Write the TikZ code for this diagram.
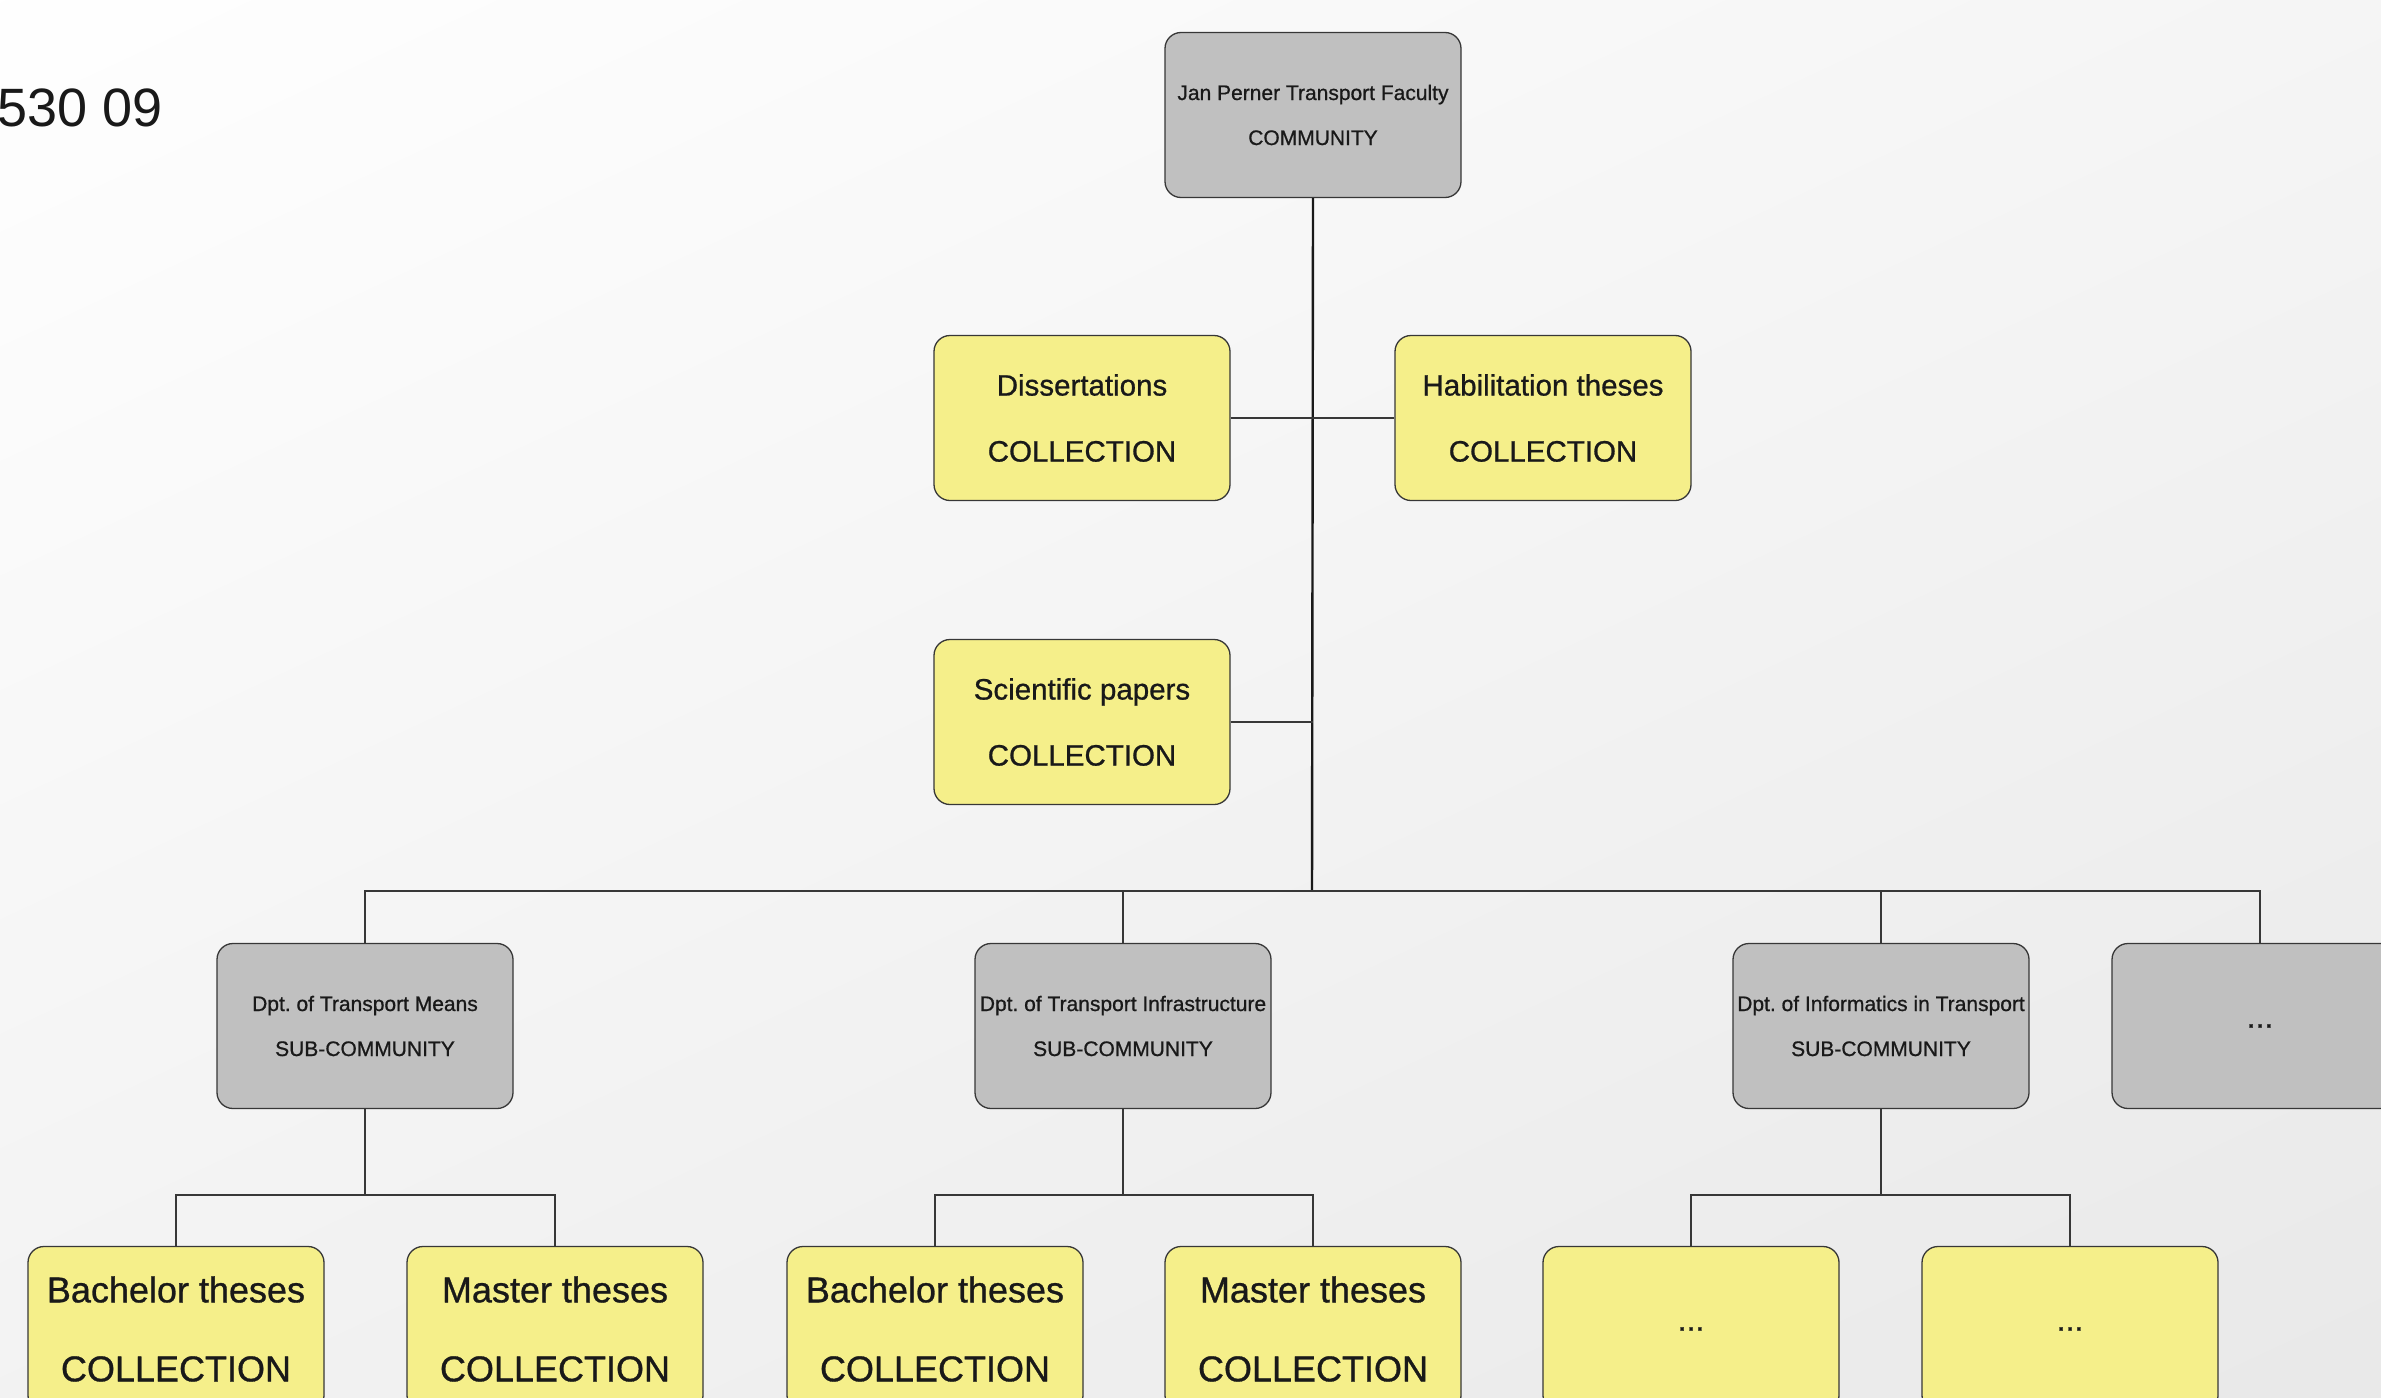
\documentclass[tikz,border=0pt]{standalone}
\usepackage{fontspec}
\setmainfont{Liberation Sans}
\newfontfamily\heavy{Liberation Sans}[FakeBold=0.8]
\usepackage{tikz}
\definecolor{boxgray}{RGB}{192,192,192}
\definecolor{boxyellow}{RGB}{245,239,138}
\definecolor{edgegray}{RGB}{55,55,55}
\frenchspacing

\begin{document}
\begin{tikzpicture}
  [x=1pt,y=-1pt,
   every node/.style={rectangle,rounded corners=16pt,draw=edgegray,line width=1.3pt,
     minimum width=296pt,minimum height=165pt,align=center,inner sep=0pt,text=black!90},
   comm/.style={fill=boxgray,font=\heavy\fontsize{21}{45}\selectfont},
   coll/.style={fill=boxyellow,font=\heavy\fontsize{29.5}{66}\selectfont},
   thesis/.style={fill=boxyellow,font=\heavy\fontsize{36}{79}\selectfont},
   dots/.style={font=\heavy\fontsize{32}{40}\selectfont,text depth=-6pt},
   link/.style={draw=edgegray,line width=1.2pt},
   trunk/.style={draw=black!90,line width=2.4pt}]

  \clip (0,0) rectangle (2381,1397);
  \shade[top color=white,bottom color=black!9,shading angle=25] (-400,-300) rectangle (2800,1700);

  \node[draw=none,fill=none,rectangle,minimum width=0pt,minimum height=0pt,anchor=base west,
    font=\fontsize{54}{60}\selectfont] (code) at (-3,126) {530 09};

  \node[comm] (jpf) at (1313,115) {Jan Perner Transport Faculty\\COMMUNITY};
  \node[coll] (diss) at (1082,418) {Dissertations\\COLLECTION};
  \node[coll] (habil) at (1543,418) {Habilitation theses\\COLLECTION};
  \node[coll] (sci) at (1082,722) {Scientific papers\\COLLECTION};
  \node[comm] (dtm) at (365,1026) {Dpt. of Transport Means\\SUB-COMMUNITY};
  \node[comm] (dti) at (1123,1026) {Dpt. of Transport Infrastructure\\SUB-COMMUNITY};
  \node[comm] (dit) at (1881,1026) {Dpt. of Informatics in Transport\\SUB-COMMUNITY};
  \node[comm,dots] (dmore) at (2260,1026) {...};
  \node[thesis] (bt1) at (176,1329) {Bachelor theses\\COLLECTION};
  \node[thesis] (mt1) at (555,1329) {Master theses\\COLLECTION};
  \node[thesis] (bt2) at (935,1329) {Bachelor theses\\COLLECTION};
  \node[thesis] (mt2) at (1313,1329) {Master theses\\COLLECTION};
  \node[thesis,dots] (it1) at (1691,1329) {...};
  \node[thesis,dots] (it2) at (2070,1329) {...};

  \coordinate (bus) at (1312,891);
  \coordinate (sublevel) at (0,1195);

  \draw[trunk] (jpf.south) -- (bus);
  \draw[link] (diss.east) -- (diss.east -| jpf.south);
  \draw[link] (habil.west) -- (habil.west -| jpf.south);
  \draw[link] (sci.east) -- (sci.east -| jpf.south);
  \foreach \dpt in {dtm,dti,dit,dmore}
    \draw[link] (bus) -| (\dpt.north);
  \foreach \dpt/\lo/\hi in {dtm/bt1/mt1,dti/bt2/mt2,dit/it1/it2}
  {
    \draw[link] (\dpt.south) -- (\dpt.south |- sublevel);
    \draw[link] (\lo.north) |- (\dpt.south |- sublevel) -| (\hi.north);
  }
\end{tikzpicture}
\end{document}
